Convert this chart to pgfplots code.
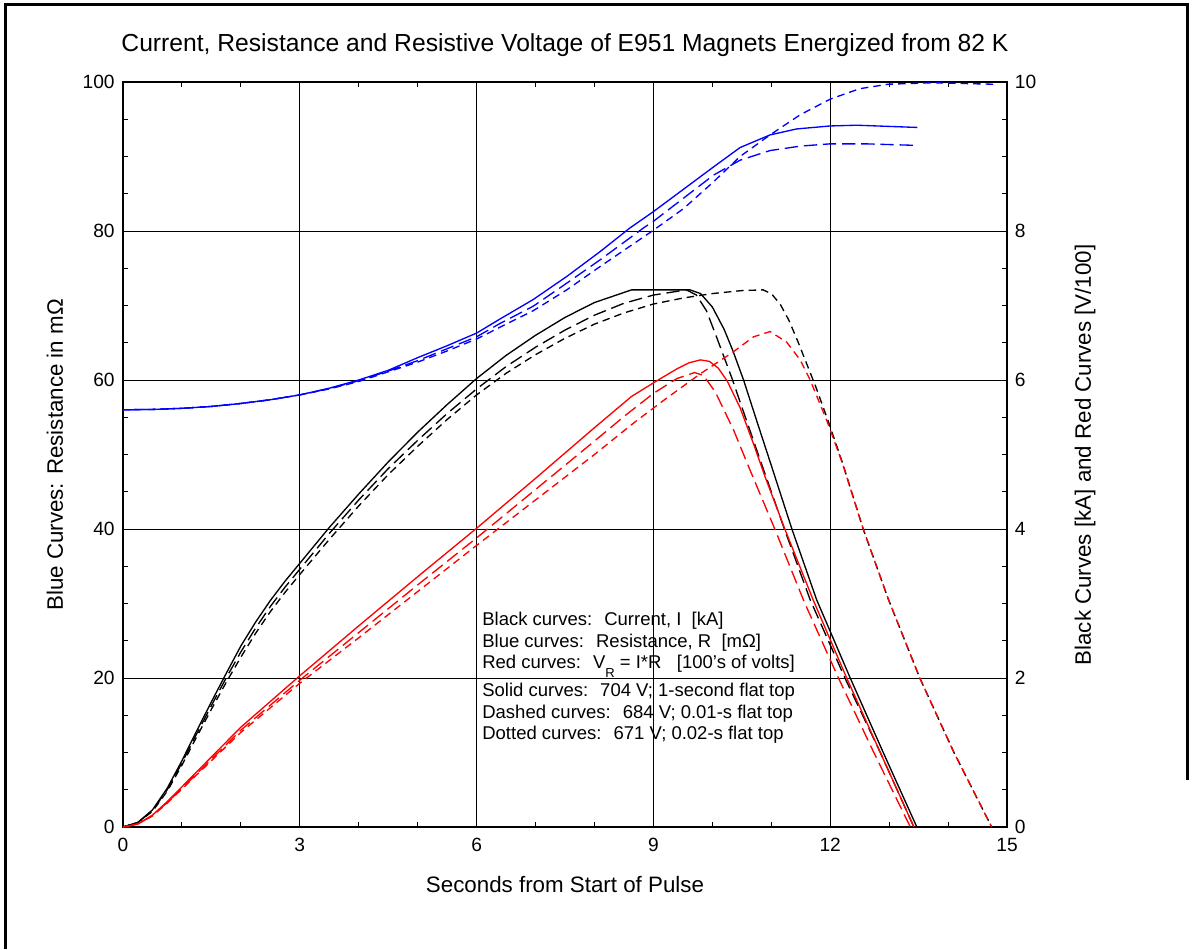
\documentclass[border=0pt]{standalone}
\usepackage{fontspec}
\setmainfont{Liberation Sans}
\usepackage{pgfplots}
\pgfplotsset{compat=1.18}
\definecolor{bl}{RGB}{0,0,255}
\definecolor{rd}{RGB}{255,0,0}
\tikzset{
  longd/.style={dash pattern=on 8pt off 3.5pt},
  shortd/.style={dash pattern=on 4.5pt off 3pt},
}
\begin{document}
\begin{tikzpicture}
\begin{scope}[x=0.6pt,y=0.6pt]
\useasboundingbox (0,0) rectangle (1202,949);
\draw[line width=1.8pt] (5,0) -- (5,944) -- (1187,944) -- (1187,169);
\node[anchor=base, font=\fontsize{14.8}{16}\selectfont] at (565,897) {Current, Resistance and Resistive Voltage of E951 Magnets Energized from 82 K};
\node[anchor=base, font=\fontsize{13.4}{15}\selectfont] at (565,57) {Seconds from Start of Pulse};
\node[rotate=90, font=\fontsize{13.4}{15}\selectfont] at (55,494) {Blue Curves: Resistance in mΩ};
\node[rotate=90, font=\fontsize{13.4}{15}\selectfont] at (1085,494) {Black Curves [kA] and Red Curves [V/100]};
\end{scope}
\begin{axis}[at={(73.8pt,73.2pt)}, anchor=south west, scale only axis,
  width=530.4pt, height=447pt,
  xmin=0, xmax=15, ymin=0, ymax=100,
  xtick={0,3,...,15}, ytick={0,20,...,100},
  minor x tick num=2, minor y tick num=3,
  grid=major, major grid style={black, line width=0.6pt},
  tick align=inside, major tick length=5pt, minor tick length=3pt,
  tick style={black, line width=0.6pt},
  axis line style={line width=1.5pt},
  /pgf/number format/assume math mode=true,
  tick label style={font=\fontsize{11.5}{13}\selectfont},
  xticklabel style={yshift=-3pt},
  yticklabel style={xshift=-1.5pt},
  clip=true]
% blue
\addplot[bl, line width=0.8pt] coordinates {(0,56)(0.5,56.05)(1,56.2)(1.5,56.45)(2,56.85)(2.5,57.35)(3,58)(3.5,58.9)(4,60)(4.5,61.3)(5,63.0)(5.5,64.6)(6,66.3)(6.4,68.2)(6.96,70.8)(7.53,73.9)(8.09,77.2)(8.6,80.4)(9,82.6)(9.51,85.6)(10.02,88.6)(10.47,91.2)(10.98,92.9)(11.43,93.7)(12,94.1)(12.45,94.2)(13.48,93.9)};
\addplot[bl, line width=0.8pt, longd] coordinates {(0,56)(0.5,56.05)(1,56.2)(1.5,56.45)(2,56.85)(2.5,57.35)(3,58)(3.5,58.85)(4,59.9)(4.5,61.2)(5,62.6)(5.5,64.2)(6,65.8)(6.4,67.6)(6.96,69.9)(7.53,73.0)(8.09,76.1)(8.83,80.4)(9,81.3)(9.51,84.4)(10.02,87.5)(10.47,89.5)(10.98,90.8)(11.5,91.4)(12,91.7)(12.6,91.7)(13.43,91.5)};
\addplot[bl, line width=0.8pt, shortd] coordinates {(0,56)(0.5,56.05)(1,56.2)(1.5,56.45)(2,56.85)(2.5,57.35)(3,58)(3.5,58.8)(4,59.8)(4.5,61.1)(5,62.4)(5.5,63.9)(6,65.5)(6.4,67.1)(6.96,69.3)(7.53,72.1)(8.09,75.2)(9,80.1)(9.51,83.0)(10.02,86.6)(10.47,90.0)(10.98,92.9)(11.49,95.6)(12,97.7)(12.5,99.1)(12.98,99.7)(13.75,99.9)(14.77,99.7)};
% black
\addplot[black, line width=0.8pt] coordinates {(0,0)(0.25,0.6)(0.5,2.3)(0.75,5.2)(1,8.9)(1.25,12.9)(1.5,16.8)(1.75,20.6)(2,24.3)(2.25,27.5)(2.5,30.4)(2.75,33.0)(3,35.4)(3.5,40.2)(4,44.7)(4.5,49.0)(5,53.0)(5.5,56.7)(6,60.2)(6.5,63.3)(7,66.0)(7.5,68.4)(8,70.4)(8.63,72.1)(9.62,72.1)(9.8,71.6)(10.0,69.8)(10.2,66.8)(10.35,63.9)(10.53,60)(10.75,54.6)(11.01,48.3)(11.35,40)(11.77,30.5)(12.34,20)(12.9,10)(13.47,0)};
\addplot[black, line width=0.8pt, longd] coordinates {(0,0)(0.25,0.6)(0.5,2.2)(0.75,5.0)(1,8.6)(1.25,12.5)(1.5,16.3)(1.75,20.0)(2,23.5)(2.25,26.7)(2.5,29.6)(2.75,32.2)(3,34.6)(3.5,39.4)(4,43.9)(4.5,48.1)(5,51.9)(5.5,55.5)(6,58.8)(6.5,61.8)(7,64.4)(7.5,66.7)(8,68.7)(8.5,70.3)(9,71.4)(9.56,72.1)(9.73,71.4)(9.9,69.3)(10.07,65.8)(10.33,60.3)(10.53,55.7)(10.81,49.3)(11.2,40.5)(11.66,30.5)(12.25,20)(12.85,10)(13.42,0)};
\addplot[black, line width=0.8pt, shortd] coordinates {(0,0)(0.25,0.6)(0.5,2.1)(0.75,4.8)(1,8.3)(1.25,12.1)(1.5,15.8)(1.75,19.4)(2,22.8)(2.25,26.0)(2.5,28.9)(2.75,31.5)(3,33.9)(3.5,38.6)(4,43.1)(4.5,47.3)(5,51.1)(5.5,54.7)(6,58.0)(6.5,60.9)(7,63.4)(7.5,65.6)(8,67.5)(8.5,69.0)(9,70.2)(9.5,71.0)(10,71.6)(10.5,72.0)(10.86,72.1)(11.0,71.6)(11.15,70.2)(11.3,68.0)(11.45,65.2)(11.6,62.2)(11.75,59.2)(11.97,54.4)(12.22,48.6)(12.56,40)(12.99,30.5)(13.52,20)(14.1,10)(14.74,0)};
% red
\addplot[rd, line width=0.8pt] coordinates {(0,0)(0.25,0.4)(0.5,1.6)(0.75,3.4)(1,5.4)(1.5,9.4)(2,13.4)(3,20.3)(4,27.0)(5,33.6)(6,40.1)(7,46.8)(8,53.6)(8.63,57.8)(9.08,60)(9.4,61.5)(9.6,62.3)(9.8,62.7)(9.95,62.5)(10.1,61.6)(10.25,59.9)(10.47,56.3)(10.7,51.4)(10.9,46.9)(11.23,40)(11.71,30.5)(12.28,20)(12.85,10)(13.42,0)};
\addplot[rd, line width=0.8pt, longd] coordinates {(0,0)(0.25,0.4)(0.5,1.5)(0.75,3.3)(1,5.2)(1.5,9.1)(2,13.0)(3,19.7)(4,26.1)(5,32.5)(6,38.8)(7,45.3)(8,51.8)(8.5,55.1)(9,58.2)(9.4,60.2)(9.7,61.0)(9.85,60.6)(10.05,58.4)(10.36,53.3)(10.64,47.9)(11.06,40)(11.56,30.2)(12.14,20)(12.74,10)(13.36,0)};
\addplot[rd, line width=0.8pt, shortd] coordinates {(0,0)(0.25,0.4)(0.5,1.5)(0.75,3.2)(1,5.1)(1.5,8.9)(2,12.7)(3,19.3)(4,25.4)(5,31.6)(6,37.8)(7,43.9)(8,50.0)(8.66,54.2)(9.23,57.6)(9.79,60.8)(10.36,63.8)(10.7,65.8)(10.98,66.5)(11.26,65.1)(11.49,62.7)(11.66,60)(11.94,54.6)(12.2,49)(12.56,40)(12.99,30.5)(13.52,20)(14.1,10)(14.74,0)};
\end{axis}
\begin{axis}[at={(73.8pt,73.2pt)}, anchor=south west, scale only axis,
  width=530.4pt, height=447pt,
  xmin=0, xmax=15, ymin=0, ymax=10,
  hide x axis, axis y line*=right, y axis line style={draw=none},
  ytick={0,2,...,10}, major tick length=0pt,
  /pgf/number format/assume math mode=true,
  tick label style={font=\fontsize{11.5}{13}\selectfont},
  yticklabel style={xshift=1.2pt}]
\addplot[draw=none] coordinates {(0,0)};
\end{axis}
\begin{scope}[x=0.6pt,y=0.6pt]
\begin{scope}[font=\fontsize{11.1}{13}\selectfont]
\node[anchor=base west, inner sep=0] at (482,324) {Black curves:~ Current, I~ [kA]};
\node[anchor=base west, inner sep=0] at (482,302) {Blue curves:~ Resistance, R~ [mΩ]};
\node[anchor=base west, inner sep=0] at (482,281) {Red curves:~ V\raisebox{-5.4pt}{\fontsize{7.8}{9}\selectfont R} = I*R~~ [100's of volts]};
\node[anchor=base west, inner sep=0] at (482,253) {Solid curves:~ 704 V; 1-second flat top};
\node[anchor=base west, inner sep=0] at (482,231) {Dashed curves:~ 684 V; 0.01-s flat top};
\node[anchor=base west, inner sep=0] at (482,210) {Dotted curves:~ 671 V; 0.02-s flat top};
\end{scope}
\end{scope}
\end{tikzpicture}
\end{document}
